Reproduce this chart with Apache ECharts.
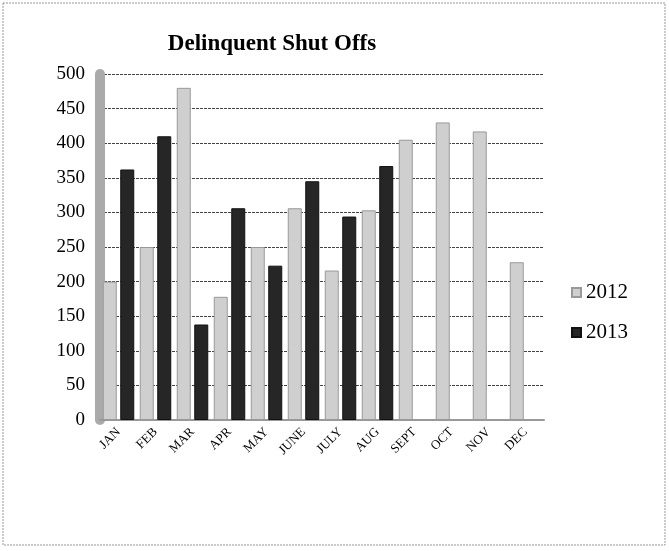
<!DOCTYPE html>
<html>
<head>
<meta charset="utf-8">
<script src="https://cdn.jsdelivr.net/npm/echarts@6/dist/echarts.min.js"></script>
<style>
  html, body { margin: 0; padding: 0; background: #fff; }
  #main { width: 669px; height: 551px; }
</style>
</head>
<body>
<div id="main"></div>
<script>
var months = ['JAN', 'FEB', 'MAR', 'APR', 'MAY', 'JUNE', 'JULY', 'AUG', 'SEPT', 'OCT', 'NOV', 'DEC'];
var shutOffs2012 = [200, 250, 480, 178, 250, 306, 216, 303, 405, 430, 417, 228];
var shutOffs2013 = [362, 410, 138, 306, 223, 345, 294, 367, null, null, null, null];
var yTicks = [0, 50, 100, 150, 200, 250, 300, 350, 400, 450, 500];

var chart = echarts.init(document.getElementById('main'));

var option = {
  backgroundColor: '#fff',
  title: {
    text: 'Delinquent Shut Offs',
    left: 267,
    textAlign: 'center',
    top: 28,
    textStyle: {
      fontFamily: 'Liberation Serif',
      fontWeight: 'bold',
      fontSize: 23,
      color: '#000'
    }
  },
  graphic: [
    {
      type: 'rect',
      shape: { x: 3, y: 3, width: 662, height: 542 },
      style: { fill: 'none', stroke: '#999', lineWidth: 1, lineDash: [2, 1] },
      silent: true
    }
  ],
  legend: {
    orient: 'vertical',
    left: 566,
    top: 277,
    itemGap: 19,
    itemWidth: 9,
    itemHeight: 9,
    icon: 'rect',
    textStyle: { fontFamily: 'Liberation Serif', fontSize: 21, color: '#000' },
    data: ['2012', '2013']
  },
  grid: {
    left: 100,
    right: 125,
    top: 74,
    bottom: 131,
    containLabel: false
  },
  xAxis: {
    type: 'category',
    data: months,
    axisLine: { show: true, lineStyle: { color: '#999', width: 2 } },
    axisTick: { show: false },
    axisLabel: {
      rotate: 45,
      interval: 0,
      fontFamily: 'Liberation Serif',
      fontSize: 13,
      color: '#000',
      margin: 10
    }
  },
  yAxis: {
    type: 'value',
    min: 0,
    max: 500,
    interval: 50,
    axisLine: { show: true, lineStyle: { color: '#aaa', width: 10 } },
    axisTick: { show: false },
    axisLabel: {
      fontFamily: 'Liberation Serif',
      fontSize: 19,
      color: '#000',
      margin: 15,
      formatter: function (v) { return yTicks.indexOf(v) >= 0 ? String(v) : ''; }
    },
    splitLine: { show: true, lineStyle: { color: '#444', width: 1, type: [3, 1] } }
  },
  series: [
    {
      name: '2012',
      type: 'bar',
      data: shutOffs2012,
      barWidth: 14,
      barGap: '25%',
      itemStyle: { color: '#cfcfcf', borderColor: '#999', borderWidth: 1 }
    },
    {
      name: '2013',
      type: 'bar',
      data: shutOffs2013,
      barWidth: 14,
      itemStyle: { color: '#262626', borderColor: '#111', borderWidth: 1 }
    }
  ]
};

chart.setOption(option);
</script>
</body>
</html>
